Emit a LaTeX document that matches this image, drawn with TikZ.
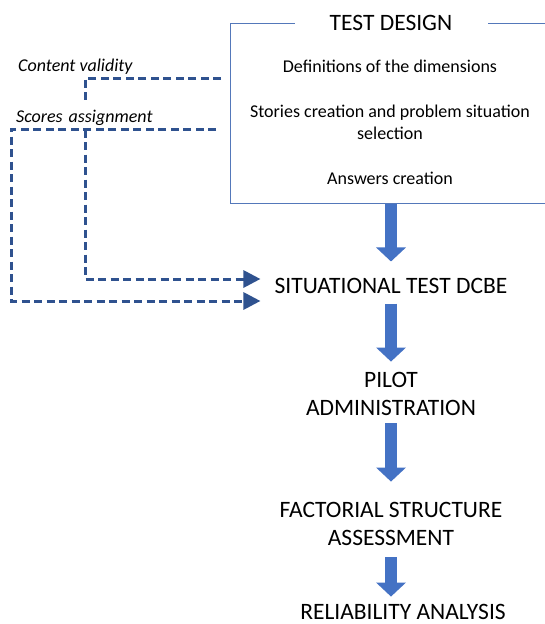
\documentclass[tikz,border=0pt]{standalone}
\usepackage{fontspec}
\setmainfont{Carlito}
\usepackage{tikz}
\usetikzlibrary{arrows.meta,positioning,calc}
\definecolor{flowblue}{RGB}{68,114,196}
\definecolor{dashblue}{RGB}{47,82,143}
\definecolor{boxblue}{RGB}{84,120,186}

\begin{document}
\begin{tikzpicture}[
            x=1pt, y=-1pt,
            every node/.style={inner sep=0pt},
            stage/.style={font=\fontsize{23.5}{28}\selectfont, align=center},
            item/.style={font=\fontsize{18}{22}\selectfont, align=center},
            note/.style={font=\fontsize{18}{20}\selectfont\itshape, anchor=base west},
            fat/.style={line width=12pt, flowblue, -{Triangle[length=14pt,width=29pt]}},
            link/.style={dashblue, line width=3pt, dash pattern=on 8pt off 4.5pt, -{Triangle[length=17pt,width=17pt]}},
        ]
            \useasboundingbox (0,0) rectangle (545,624);

            % test design box, its right side runs off the page
            \node[draw=boxblue, line width=1pt, minimum width=330, minimum height=180, anchor=north west] (design) at (230,23) {};
            \node[stage, fill=white, minimum width=193, inner ysep=3pt] (title) at (391,23) {TEST DESIGN};
            \node[item] (dims) at (390,66) {Definitions of the dimensions};
            \node[item] (stories) at (390,122) {Stories creation and problem situation\\selection};
            \node[item] (answers) at (390,178) {Answers creation};

            % main flow
            \node[stage] (situ) at (391,286) {SITUATIONAL TEST DCBE};
            \node[stage] (pilot) at (391,393.5) {PILOT\\ADMINISTRATION};
            \node[stage] (fact) at (391,523.5) {FACTORIAL STRUCTURE\\ASSESSMENT};
            \node[stage] (reli) at (403,612) {RELIABILITY ANALYSIS};

            \draw[fat, shorten >=16.6pt] (design.south -| situ.north) -- (situ.north);
            \draw[fat, shorten <=9.6pt, shorten >=10pt] (situ.south) -- (pilot.north);
            \draw[fat, shorten <=8pt, shorten >=20pt] (pilot.south) -- (fact.north);
            \draw[fat, shorten <=12pt, shorten >=7.5pt] (fact.south) -- (fact.south |- reli.north);

            % feedback links
            \coordinate (cvstart) at ($(design.north west)+(-9,55)$);
            \coordinate (sastart) at ($(design.north west)+(-14,106)$);
            \coordinate (cvin) at ($(situ.west)+(-14,-7)$);
            \coordinate (sain) at ($(situ.west)+(-14,15)$);
            \draw[link] (cvstart) -- ++(-136,0) |- (cvin);
            \draw[link] (sastart) -- ++(-205,0) |- (sain);

            \node[note] (content) at (18,71) {Content validity};
            \node[note, fill=white, text width=193pt, align=left, inner xsep=6pt, text height=21pt, text depth=5pt] (scores) at (10,122) {Scores assignment};
        \end{tikzpicture}
\end{document}
